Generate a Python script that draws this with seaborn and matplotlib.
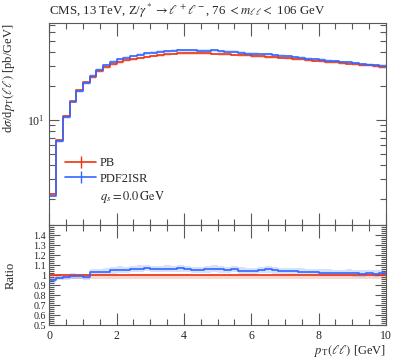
import matplotlib
matplotlib.use("Agg")
import matplotlib.pyplot as plt
import matplotlib.ticker as mticker
from matplotlib.lines import Line2D
import numpy as np
import pandas as pd
import seaborn as sns

# 50 bins of 0.2 GeV between 0 and 10 GeV
bin_edges = np.round(np.arange(51) * 0.2, 1)

pb_values = [
    2.24, 6.65, 10.85, 14.6, 18.3, 21.6, 24.0, 27.0, 29.5, 31.3,
    32.6, 33.8, 34.8, 35.7, 36.5, 37.2, 37.8, 38.3, 38.7, 39.0,
    39.2, 39.3, 39.2, 39.0, 38.8, 38.5, 38.2, 37.9, 37.6, 37.3,
    37.0, 36.6, 36.3, 35.9, 35.6, 35.2, 34.8, 34.4, 34.0, 33.6,
    33.2, 32.8, 32.4, 32.0, 31.6, 31.2, 30.8, 30.4, 30.0, 29.6,
]
pdf2isr_values = [
    2.13, 6.48, 10.58, 14.45, 18.03, 21.17, 24.72, 27.81, 30.53, 32.71,
    34.39, 35.49, 36.89, 38.02, 39.06, 39.43, 40.07, 40.79, 41.02, 41.54,
    41.55, 41.27, 41.16, 41.15, 41.32, 40.62, 40.11, 40.17, 39.29, 38.61,
    38.48, 38.43, 38.30, 37.52, 37.02, 36.61, 36.02, 35.60, 35.02, 34.61,
    34.03, 33.62, 33.05, 32.64, 32.39, 31.67, 31.26, 31.01, 30.45, 30.19,
]
# relative uncertainty bands (down, up)
pb_band = (0.035, 0.012)
pdf2isr_band = (0.03, 0.03)

ratio_ticks = [0.5, 0.6, 0.7, 0.8, 0.9, 1.0, 1.1, 1.2, 1.3, 1.4]

red = "#EE3311"
blue = "#3366FF"

sns.set_theme(style="ticks")
plt.rcParams["font.family"] = ["Liberation Serif", "DejaVu Serif"]
plt.rcParams["mathtext.fontset"] = "stix"


def steps(values):
    values = list(values)
    return pd.DataFrame({"x": bin_edges, "y": values + [values[-1]]})


def band(ax, values, rel, color):
    values = np.asarray(list(values) + [values[-1]])
    ax.fill_between(bin_edges, values * (1 - rel[0]), values * (1 + rel[1]),
                    step="post", color=color, alpha=0.2, lw=0)


fig = plt.figure(figsize=(3.99, 3.6), dpi=100)
ax = fig.add_axes([0.1236, 0.375, 0.8438, 0.5603])
rax = fig.add_axes([0.1236, 0.0972, 0.8438, 0.2778], sharex=ax)

pb = np.array(pb_values)
pdf2isr = np.array(pdf2isr_values)

# main panel
band(ax, pb, pb_band, red)
band(ax, pdf2isr, pdf2isr_band, blue)
sns.lineplot(data=steps(pb), x="x", y="y", drawstyle="steps-post", color=red,
             lw=1.2, estimator=None, ax=ax)
sns.lineplot(data=steps(pdf2isr), x="x", y="y", drawstyle="steps-post", color=blue,
             lw=1.2, estimator=None, ax=ax)

# ratio panel
ratio_pb = pb / pb
ratio_pdf2isr = pdf2isr / pb
band(rax, ratio_pb, pb_band, red)
band(rax, ratio_pdf2isr, pdf2isr_band, blue)
sns.lineplot(data=steps(ratio_pb), x="x", y="y", drawstyle="steps-post", color=red,
             lw=1.2, estimator=None, ax=rax)
sns.lineplot(data=steps(ratio_pdf2isr), x="x", y="y", drawstyle="steps-post",
             color=blue, lw=1.2, estimator=None, ax=rax)

ax.set_yscale("log")
ax.set_xlim(0, 10)
ax.set_ylim(1.18, 71.8)
rax.set_ylim(0.5, 1.5)

for a in (ax, rax):
    a.xaxis.set_major_locator(mticker.MultipleLocator(2))
    a.xaxis.set_minor_locator(mticker.MultipleLocator(0.5))
    a.tick_params(which="both", direction="in", top=True, right=True,
                  color="0.35", labelsize=8.5, width=0.8)
    a.tick_params(axis="x", which="major", length=9)
    a.tick_params(axis="x", which="minor", length=4.5)
    for spine in a.spines.values():
        spine.set_color("0.35")
        spine.set_linewidth(0.8)

ax.tick_params(axis="y", which="major", length=7)
ax.tick_params(axis="y", which="minor", length=4.5)
ax.yaxis.set_minor_formatter(mticker.NullFormatter())
ax.tick_params(labelbottom=False)

rax.yaxis.set_major_locator(mticker.FixedLocator(ratio_ticks))
rax.yaxis.set_major_formatter(mticker.FuncFormatter(lambda v, p: f"{v:g}"))
rax.yaxis.set_minor_locator(mticker.MultipleLocator(0.02))
rax.tick_params(axis="y", which="major", length=8, labelsize=7.3, pad=2.5)
rax.tick_params(axis="y", which="minor", length=3.5)

ax.set_title(r"CMS, 13 TeV, Z/$\gamma^* \to \ell^+\ell^-$, 76 $< m_{\ell\ell} <$ 106 GeV",
             loc="left", fontsize=9.3, pad=6)
ax.set_xlabel("")
ax.set_ylabel(r"d$\sigma$/d$p_\mathrm{T}(\ell\ell)$ [pb/GeV]", loc="top", fontsize=9)
ax.yaxis.set_label_coords(-0.096, 1)
rax.set_ylabel("Ratio", fontsize=9)
rax.yaxis.set_label_coords(-0.096, 0.5)
rax.set_xlabel(r"$p_\mathrm{T}(\ell\ell)$ [GeV]", loc="right", fontsize=9, labelpad=1)

handles = [
    Line2D([0], [0], color=red, lw=1.2, marker="|", markersize=9, markeredgewidth=1.0),
    Line2D([0], [0], color=blue, lw=1.2, marker="|", markersize=9, markeredgewidth=1.0),
]
ax.legend(handles, ["PB", "PDF2ISR"], loc="upper left", bbox_to_anchor=(0.047, 0.337),
          frameon=False, fontsize=9, borderpad=0, borderaxespad=0,
          handlelength=2.5, handletextpad=0.3, labelspacing=0.3)
ax.text(0.151, 0.14, r"$q_s = 0.0\,\mathrm{GeV}$", transform=ax.transAxes,
        fontsize=9, va="center", ha="left")

fig.savefig("out.png", dpi=100)
